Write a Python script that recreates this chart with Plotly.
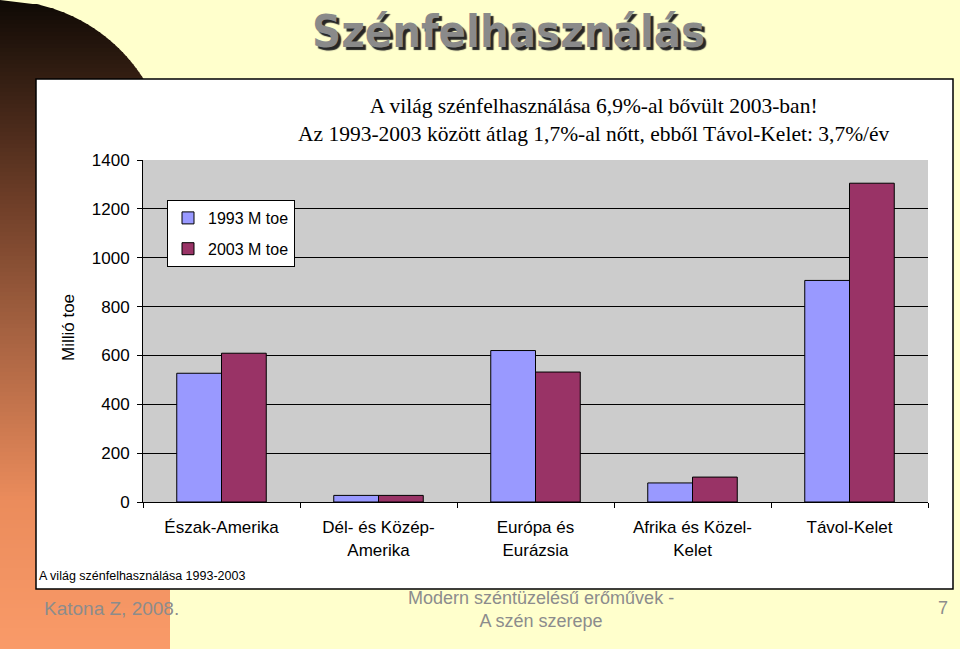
import plotly.graph_objects as go

# data
regions = ["Észak-Amerika", "Dél- és Közép-<br>Amerika", "Európa és<br>Eurázsia",
           "Afrika és Közel-<br>Kelet", "Távol-Kelet"]
mtoe_1993 = [527, 27, 620, 78, 907]
mtoe_2003 = [609, 27, 532, 102, 1305]
y_ticks = [0, 200, 400, 600, 800, 1000, 1200, 1400]

W, H = 960, 649


def px(x):
    return x / W


def py(y):
    return 1 - y / H


def edge(y, r=170):
    # right edge of the left panel (rounded top)
    if y >= r:
        return r
    return (r ** 2 - (r - y) ** 2) ** 0.5


def panel_color(y):
    stops = [(0, (15, 10, 5)), (200, (110, 62, 40)), (330, (165, 98, 65)),
             (500, (235, 140, 92)), (649, (250, 155, 105))]
    for (ya, ca), (yb, cb) in zip(stops, stops[1:]):
        if y <= yb:
            t = (y - ya) / (yb - ya)
            return "rgb(%d,%d,%d)" % tuple(int(a + (b - a) * t) for a, b in zip(ca, cb))
    return "rgb(%d,%d,%d)" % stops[-1][1]


fig = go.Figure()
fig.add_trace(go.Bar(x=regions, y=mtoe_1993, name="1993 M toe", legendgroup="a",
                     marker=dict(color="#9999FF", line=dict(color="black", width=1))))
fig.add_trace(go.Bar(x=regions, y=mtoe_2003, name="2003 M toe", legendgroup="b",
                     marker=dict(color="#993366", line=dict(color="black", width=1))))

# slide decoration: dark-to-orange panel on the left with a rounded top
shapes = []
step = 4
for y0 in range(0, H, step):
    y1 = y0 + step + 1
    path = "M 0 %f L %f %f L %f %f L 0 %f Z" % (
        py(y0), px(edge(y0)), py(y0), px(edge(y1)), py(y1), py(y1))
    shapes.append(dict(type="path", xref="paper", yref="paper", layer="below", path=path,
                       fillcolor=panel_color(y0 + step / 2), line=dict(width=0)))
# white chart box + gray plot area
shapes.append(dict(type="rect", xref="paper", yref="paper", layer="below",
                   x0=px(36), x1=px(953), y0=py(589), y1=py(79),
                   fillcolor="white", line=dict(color="black", width=1.5)))
shapes.append(dict(type="rect", xref="x domain", yref="y domain", layer="below",
                   x0=0, x1=1, y0=0, y1=1, fillcolor="#CCCCCC", line=dict(width=0)))

annotations = [
    dict(text="Szénfelhasználás", x=px(509), y=py(31),
         font=dict(family="Liberation Sans Narrow, DejaVu Sans Condensed, Arial", size=45,
                   color="#8a8a8a", weight="bold", shadow="3px 3px 1px #262626")),
    dict(text="A világ szénfelhasználása 6,9%-al bővült 2003-ban!<br>"
              "Az 1993-2003 között átlag 1,7%-al nőtt, ebből Távol-Kelet: 3,7%/év",
         x=px(594), y=py(120),
         font=dict(family="Liberation Serif, Times New Roman", size=21.5, color="black")),
    dict(text="Millió toe", x=px(68), y=py(328), textangle=-90,
         font=dict(family="Liberation Sans, Arial", size=17, color="black")),
    dict(text="A világ szénfelhasználása 1993-2003", x=px(37), y=py(576), xanchor="left",
         font=dict(family="Liberation Sans Narrow, Arial", size=12.5, color="black")),
    dict(text="Katona Z, 2008.", x=px(42), y=py(608), xanchor="left",
         font=dict(family="Liberation Sans, Arial", size=19, color="#8c8c8c")),
    dict(text="Modern széntüzelésű erőművek -<br>A szén szerepe", x=px(541), y=py(609),
         font=dict(family="Liberation Sans, Arial", size=18, color="#8c8c8c")),
    dict(text="7", x=px(943), y=py(608),
         font=dict(family="Liberation Sans, Arial", size=18, color="#8c8c8c")),
]
for a in annotations:
    a.setdefault("xanchor", "center")
    a.update(xref="paper", yref="paper", yanchor="middle", showarrow=False)

fig.update_layout(
    width=W, height=H,
    margin=dict(l=0, r=0, t=0, b=0, autoexpand=False),
    paper_bgcolor="#FFFFCC",
    plot_bgcolor="rgba(0,0,0,0)",
    font=dict(family="Liberation Sans, Arial", size=15, color="black"),
    barmode="group", bargap=0.43, bargroupgap=0,
    shapes=shapes, annotations=annotations,
    legend=dict(x=px(167), y=py(200), xanchor="left", yanchor="top",
                bgcolor="white", bordercolor="black", borderwidth=1,
                font=dict(size=16), tracegroupgap=7, itemwidth=30),
    xaxis=dict(domain=[px(143), px(928)], showline=True, linecolor="black",
               ticks="outside", tickson="boundaries", ticklen=5, tickcolor="black",
               tickfont=dict(size=17), ticklabelstandoff=10, showgrid=False,
               automargin=False),
    yaxis=dict(domain=[py(502), py(160)], range=[0, 1400], tickvals=y_ticks,
               showline=True, linecolor="black", ticks="outside", ticklen=5,
               tickcolor="black", gridcolor="black", gridwidth=1, zeroline=False,
               tickfont=dict(size=17), ticklabelstandoff=4, automargin=False),
)

fig.write_html("out.html", config={"displayModeBar": False},
               post_script="document.body.style.margin='0';")
